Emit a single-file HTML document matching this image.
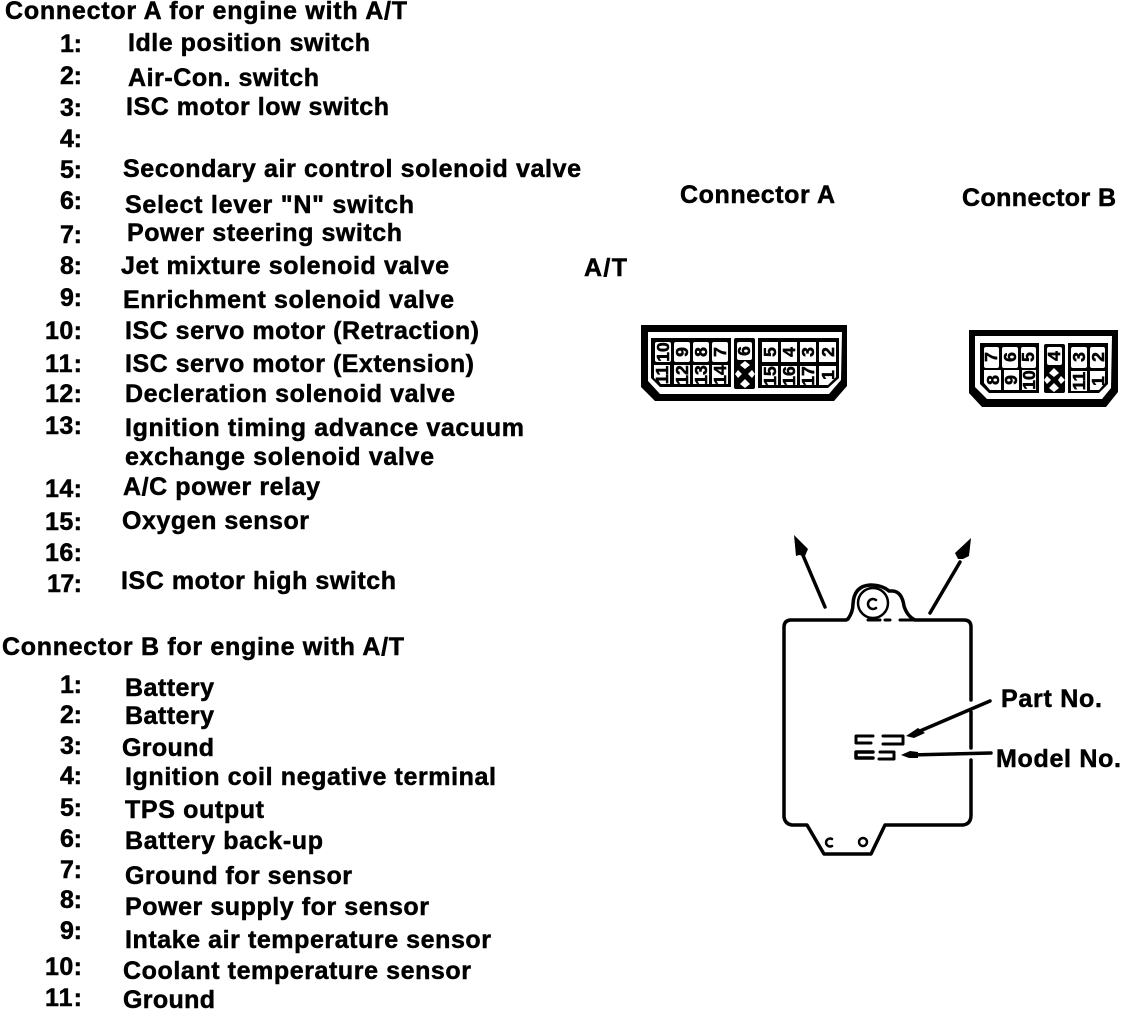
<!DOCTYPE html>
<html>
<head>
<meta charset="utf-8">
<style>
html,body{margin:0;padding:0;background:#fff;width:1136px;height:1010px;overflow:hidden}
svg{display:block}
text{font-family:"Liberation Sans",sans-serif;font-weight:bold;fill:#000}
.t text{font-size:25px;stroke:#000;stroke-width:.5}
.n text{font-size:17.5px;text-anchor:middle;stroke:#000;stroke-width:.55}
</style>
</head>
<body>
<svg width="1136" height="1010" viewBox="0 0 1136 1010" xmlns="http://www.w3.org/2000/svg">
<g class="t">
<text x="5" y="19" textLength="402">Connector A for engine with A/T</text>
<text x="60" y="52" textLength="22">1:</text><text x="128" y="51" textLength="242">Idle position switch</text>
<text x="60" y="84" textLength="22">2:</text><text x="128" y="86" textLength="191">Air-Con. switch</text>
<text x="60" y="116" textLength="22">3:</text><text x="126" y="115" textLength="263">ISC motor low switch</text>
<text x="60" y="147" textLength="22">4:</text>
<text x="60" y="178" textLength="22">5:</text><text x="123" y="177" textLength="458">Secondary air control solenoid valve</text>
<text x="60" y="209" textLength="22">6:</text><text x="125" y="213" textLength="289">Select lever "N" switch</text>
<text x="60" y="243" textLength="22">7:</text><text x="127" y="241" textLength="275">Power steering switch</text>
<text x="60" y="274" textLength="22">8:</text><text x="121" y="274" textLength="328">Jet mixture solenoid valve</text>
<text x="60" y="306" textLength="22">9:</text><text x="123" y="308" textLength="331">Enrichment solenoid valve</text>
<text x="45" y="339" textLength="37">10:</text><text x="125" y="339" textLength="354">ISC servo motor (Retraction)</text>
<text x="45" y="372" textLength="37">11:</text><text x="125" y="372" textLength="349">ISC servo motor (Extension)</text>
<text x="45" y="402" textLength="37">12:</text><text x="125" y="402" textLength="330">Decleration solenoid valve</text>
<text x="45" y="434" textLength="37">13:</text><text x="125" y="436" textLength="399">Ignition timing advance vacuum</text>
<text x="125" y="465" textLength="309">exchange solenoid valve</text>
<text x="45" y="497" textLength="37">14:</text><text x="123" y="495" textLength="197">A/C power relay</text>
<text x="45" y="530" textLength="37">15:</text><text x="122" y="529" textLength="187">Oxygen sensor</text>
<text x="45" y="561" textLength="37">16:</text>
<text x="47" y="592" textLength="35">17:</text><text x="121" y="589" textLength="275">ISC motor high switch</text>
<text x="2" y="655" textLength="402">Connector B for engine with A/T</text>
<text x="60" y="693" textLength="22">1:</text><text x="125" y="696" textLength="89">Battery</text>
<text x="60" y="723" textLength="22">2:</text><text x="125" y="724" textLength="89">Battery</text>
<text x="60" y="754" textLength="22">3:</text><text x="122" y="756" textLength="92">Ground</text>
<text x="60" y="784" textLength="22">4:</text><text x="125" y="785" textLength="371">Ignition coil negative terminal</text>
<text x="60" y="816" textLength="22">5:</text><text x="125" y="818" textLength="139">TPS output</text>
<text x="60" y="847" textLength="22">6:</text><text x="125" y="849" textLength="198">Battery back-up</text>
<text x="60" y="878" textLength="22">7:</text><text x="125" y="884" textLength="227">Ground for sensor</text>
<text x="60" y="908" textLength="22">8:</text><text x="125" y="915" textLength="304">Power supply for sensor</text>
<text x="60" y="939" textLength="22">9:</text><text x="125" y="948" textLength="366">Intake air temperature sensor</text>
<text x="45" y="975" textLength="37">10:</text><text x="123" y="979" textLength="348">Coolant temperature sensor</text>
<text x="45" y="1006" textLength="37">11:</text><text x="123" y="1008" textLength="92">Ground</text>
<text x="680" y="203" textLength="155">Connector A</text>
<text x="962" y="206" textLength="154">Connector B</text>
<text x="584" y="276" textLength="43">A/T</text>
<text x="1001" y="707" textLength="101">Part No.</text>
<text x="996" y="767" textLength="125">Model No.</text>
</g>

<!-- Connector A -->
<path d="M641,325 H847 V386 L834,401 H655 L641,387 Z" fill="#000"/>
<path d="M648,332 H842 L841,380 L829,394 H660 L648,381 Z" fill="#fff"/>
<path d="M651,338 H731 V387 H660 L651,378 Z" fill="#000"/>
<path d="M758,338 H839 V378 L828,388 H758 Z" fill="#000"/>
<rect x="734" y="338" width="21" height="51" rx="2" fill="#000"/>
<g fill="#fff">
<rect x="655" y="342" width="16" height="20" rx="2"/><rect x="674" y="342" width="16" height="20" rx="2"/><rect x="693" y="342" width="16" height="20" rx="2"/><rect x="712" y="342" width="16" height="20" rx="2"/>
<path d="M654,365 H670 V384 H661 L654,378 Z"/><rect x="674" y="365" width="16" height="19"/><rect x="693" y="365" width="16" height="19"/><rect x="712" y="365" width="16" height="19"/>
<rect x="762" y="342" width="16" height="20"/><rect x="781" y="342" width="16" height="20"/><rect x="800" y="342" width="16" height="20"/><rect x="819" y="342" width="17" height="20"/>
<rect x="762" y="366" width="16" height="19"/><rect x="781" y="366" width="16" height="19"/><rect x="800" y="366" width="16" height="19"/><path d="M819,366 H836 V377 L828,385 H819 Z"/>
<rect x="737" y="342" width="15" height="18" rx="2"/>
<path d="M745,361 l5,4 l-5,4 l-5,-4 Z M745,379 l5,5 l-5,4 l-5,-4 Z M738,370 l4,4 l-4,4 l-3,-4 Z M752,370 l3,4 l-3,4 l-4,-4 Z"/>
</g>
<g class="n">
<text transform="translate(669,352) rotate(-90)">10</text><text transform="translate(688,352) rotate(-90)">9</text><text transform="translate(707,352) rotate(-90)">8</text><text transform="translate(726,352) rotate(-90)">7</text>
<text transform="translate(668,375) rotate(-90)">11</text><text transform="translate(688,375) rotate(-90)">12</text><text transform="translate(707,375) rotate(-90)">13</text><text transform="translate(726,375) rotate(-90)">14</text>
<text transform="translate(750,351) rotate(-90)">6</text>
<text transform="translate(776,352) rotate(-90)">5</text><text transform="translate(795,352) rotate(-90)">4</text><text transform="translate(814,352) rotate(-90)">3</text><text transform="translate(834,352) rotate(-90)">2</text>
<text transform="translate(776,376) rotate(-90)">15</text><text transform="translate(795,376) rotate(-90)">16</text><text transform="translate(814,376) rotate(-90)">17</text><text transform="translate(834,375) rotate(-90)">1</text>
</g>

<!-- Connector B -->
<path d="M969,330 H1118 V392 L1106,407 H982 L969,393 Z" fill="#000"/>
<path d="M975,336 H1112 L1111,388 L1102,399 H987 L975,387 Z" fill="#fff"/>
<path d="M980,343 H1039 V393 H989 L980,384 Z" fill="#000"/>
<path d="M1068,343 H1108 V384 L1099,393 H1068 Z" fill="#000"/>
<rect x="1044" y="344" width="21" height="49" rx="2" fill="#000"/>
<g fill="#fff">
<rect x="984" y="347" width="15" height="21" rx="2"/><rect x="1002" y="347" width="16" height="21" rx="2"/><rect x="1021" y="347" width="15" height="21" rx="2"/>
<path d="M984,370 H1001 V390 H990 L984,383 Z"/><rect x="1004" y="370" width="15" height="20"/><rect x="1022" y="370" width="14" height="20"/>
<rect x="1071" y="347" width="16" height="21" rx="2"/><rect x="1090" y="347" width="15" height="21" rx="2"/>
<rect x="1071" y="371" width="16" height="20"/><path d="M1090,371 H1105 V383 L1099,390 H1090 Z"/>
<rect x="1047" y="347" width="15" height="18" rx="2"/>
<path d="M1054,368 l5,5 l-5,4 l-5,-4 Z M1054,383 l5,5 l-5,4 l-5,-4 Z M1047,376 l4,4 l-4,4 l-3,-4 Z M1061,376 l4,4 l-4,4 l-3,-4 Z"/>
</g>
<g class="n">
<text transform="translate(997,357) rotate(-90)">7</text><text transform="translate(1016,357) rotate(-90)">6</text><text transform="translate(1034,357) rotate(-90)">5</text>
<text transform="translate(999,380) rotate(-90)">8</text><text transform="translate(1017,380) rotate(-90)">9</text><text transform="translate(1035,380) rotate(-90)">10</text>
<text transform="translate(1060,356) rotate(-90)">4</text>
<text transform="translate(1085,357) rotate(-90)">3</text><text transform="translate(1104,357) rotate(-90)">2</text>
<text transform="translate(1085,381) rotate(-90)">11</text><text transform="translate(1104,381) rotate(-90)">1</text>
</g>

<!-- Module outline -->
<g fill="none" stroke="#000" stroke-width="3.5" stroke-linejoin="round" stroke-linecap="round">
<path d="M971,700 V627 Q971,620 964,620 H915 Q907,616 904,606 Q902,592 893,591 H889 Q882,585 870,585 Q854,586 853,604 Q853,612 848,619 L846,620 H790 Q784,621 784,627 V817 Q785,824 792,825 H807 L824,854 H871 L885,825 H963 Q971,824 971,815 V760"/>
<path d="M971,712 V748"/>
<circle cx="873" cy="603" r="15" stroke-width="2.5"/>
<path d="M876,600 A5,5 0 1 0 876,608" stroke-width="2.5"/>
<path d="M868,620 H880 M885,620 H890 M900,620 H915" stroke-width="3"/>
<path d="M825,607 L802,553" stroke-width="3.5"/>
<path d="M930,613 L960,562" stroke-width="3.5"/>
<path d="M990,701 L920,731" stroke-width="3.5"/>
<path d="M991,753 L910,755" stroke-width="3.5"/>
<path d="M832,839 A4,4 0 1 0 832,846" stroke-width="2.5"/>
<circle cx="863" cy="842" r="4" stroke-width="2.5"/>
<path d="M873,736 H856 V743 H871" stroke-width="3"/>
<path d="M883,736 H903 V744 H883" stroke-width="3"/>
<path d="M873,752 H856 V758 H873" stroke-width="3.5"/>
<path d="M880,752 H894 V759 H879" stroke-width="3"/>
</g>
<g fill="#000">
<path d="M794,535 L808,549 L805,556 L799,555 L796,556 Z"/>
<path d="M971,538 L969,556 L963,559 L958,559 L955,553 Z"/>
<path d="M906,736 L918,728 L925,733 L914,738 Z"/>
<path d="M901,755 L910,751 L918,752 L918,758 L909,758 Z"/>
</g>
</svg>
</body>
</html>
